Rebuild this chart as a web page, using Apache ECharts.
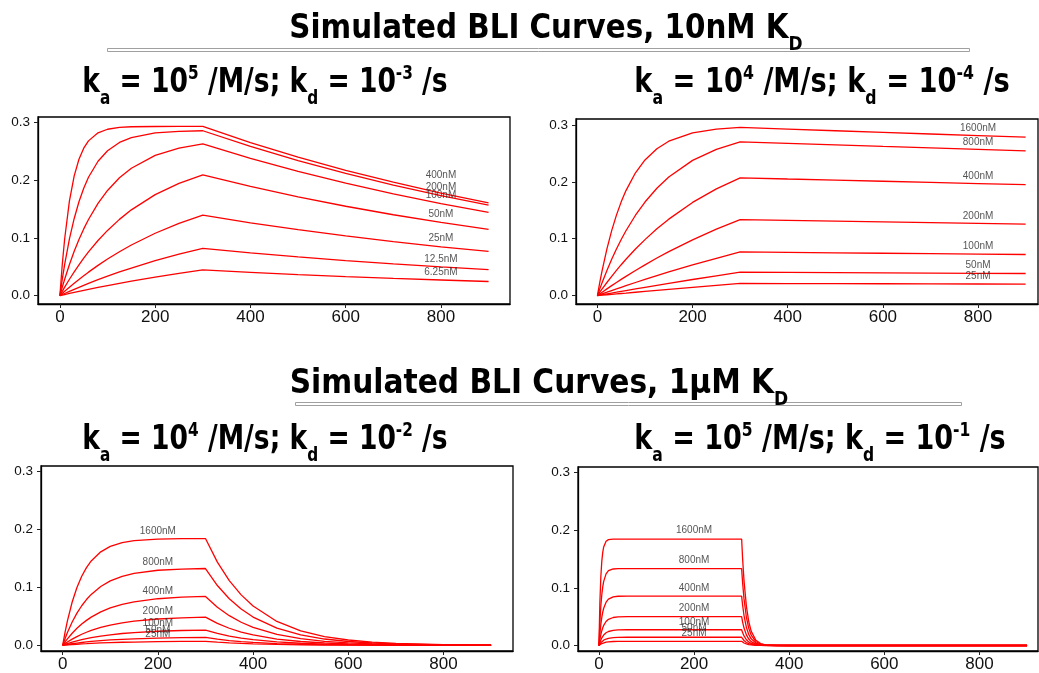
<!DOCTYPE html>
<html>
<head>
<meta charset="utf-8">
<script src="https://cdn.jsdelivr.net/npm/echarts@6/dist/echarts.min.js"></script>
<style>html,body{margin:0;padding:0;background:#fff;}#chart{width:1039px;height:673px;}</style>
</head>
<body>
<div id="chart"></div>
<script>
// ---------- titles ----------
const mainTitle1 = '{m|Simulated BLI Curves, 10nM K}{sub|D}';
const mainTitle2 = '{m|Simulated BLI Curves, 1μM K}{sub|D}';
const subTitle1 = '{m|k}{sub|a}{m| = 10}{sup|5}{m| /M/s; k}{sub|d}{m| = 10}{sup|-3}{m| /s}';
const subTitle2 = '{m|k}{sub|a}{m| = 10}{sup|4}{m| /M/s; k}{sub|d}{m| = 10}{sup|-4}{m| /s}';
const subTitle3 = '{m|k}{sub|a}{m| = 10}{sup|4}{m| /M/s; k}{sub|d}{m| = 10}{sup|-2}{m| /s}';
const subTitle4 = '{m|k}{sub|a}{m| = 10}{sup|5}{m| /M/s; k}{sub|d}{m| = 10}{sup|-1}{m| /s}';

// ---------- tick labels ----------
const xTicks = [0, 200, 400, 600, 800];
const yTicks = [0, 0.1, 0.2, 0.3];

// ---------- panel 1: ka 1e5, kd 1e-3 ----------
const time1 = [0,5,10,20,30,40,50,60,80,100,125,150,200,250,300,400,500,600,700,800,900];
const names1 = ['400nM','200nM','100nM','50nM','25nM','12.5nM','6.25nM'];
const p1_400 = [0,0.0543,0.0984,0.1638,0.2071,0.2359,0.2550,0.2677,0.2817,0.2878,0.2910,0.2921,0.2926,0.2927,0.2927,0.2648,0.2396,0.2168,0.1962,0.1775,0.1606];
const p1_200 = [0,0.0285,0.0541,0.0980,0.1335,0.1624,0.1857,0.2047,0.2324,0.2507,0.2650,0.2734,0.2814,0.2842,0.2852,0.2580,0.2335,0.2113,0.1912,0.1730,0.1565];
const p1_100 = [0,0.0146,0.0284,0.0539,0.0767,0.0971,0.1154,0.1317,0.1596,0.1819,0.2038,0.2203,0.2425,0.2553,0.2626,0.2376,0.2150,0.1945,0.1760,0.1593,0.1441];
const p1_50 = [0,0.0074,0.0146,0.0283,0.0412,0.0533,0.0648,0.0756,0.0953,0.1128,0.1319,0.1484,0.1747,0.1942,0.2087,0.1888,0.1709,0.1546,0.1399,0.1266,0.1145];
const p1_25 = [0,0.0037,0.0074,0.0145,0.0214,0.0280,0.0344,0.0406,0.0523,0.0633,0.0759,0.0875,0.1079,0.1250,0.1393,0.1260,0.1140,0.1032,0.0934,0.0845,0.0764];
const p1_12 = [0,0.0019,0.0037,0.0073,0.0109,0.0143,0.0177,0.0211,0.0275,0.0336,0.0409,0.0477,0.0604,0.0717,0.0818,0.0740,0.0670,0.0606,0.0548,0.0496,0.0449];
const p1_6 = [0,0.0009,0.0019,0.0037,0.0055,0.0073,0.0090,0.0107,0.0141,0.0173,0.0212,0.0250,0.0320,0.0385,0.0445,0.0403,0.0364,0.0330,0.0298,0.0270,0.0244];
const labelX1 = 800;
const labelY1 = [0.2075,0.188,0.173,0.1404,0.0988,0.0636,0.041];

// ---------- panel 2: ka 1e4, kd 1e-4 ----------
const time2 = [0,5,10,20,30,40,50,60,80,100,125,150,200,250,300,400,500,600,700,800,900];
const names2 = ['1600nM','800nM','400nM','200nM','100nM','50nM','25nM'];
const p2_1600 = [0,0.0231,0.0443,0.0821,0.1142,0.1415,0.1648,0.1846,0.2159,0.2385,0.2583,0.2715,0.2862,0.2928,0.2957,0.2928,0.2898,0.2869,0.2841,0.2813,0.2785];
const p2_800 = [0,0.0118,0.0231,0.0443,0.0639,0.0820,0.0987,0.1140,0.1413,0.1645,0.1887,0.2084,0.2377,0.2572,0.2702,0.2675,0.2649,0.2622,0.2596,0.2570,0.2545];
const p2_400 = [0,0.0059,0.0118,0.0230,0.0339,0.0443,0.0543,0.0638,0.0818,0.0984,0.1174,0.1344,0.1638,0.1877,0.2071,0.2050,0.2030,0.2010,0.1990,0.1970,0.1950];
const p2_200 = [0,0.0030,0.0059,0.0118,0.0175,0.0230,0.0285,0.0338,0.0442,0.0541,0.0660,0.0772,0.0980,0.1167,0.1335,0.1322,0.1309,0.1296,0.1283,0.1270,0.1257];
const p2_100 = [0,0.0015,0.0030,0.0059,0.0089,0.0117,0.0146,0.0174,0.0230,0.0284,0.0350,0.0415,0.0539,0.0656,0.0767,0.0759,0.0752,0.0744,0.0737,0.0730,0.0722];
const p2_50 = [0,0.0007,0.0015,0.0030,0.0045,0.0059,0.0074,0.0088,0.0117,0.0146,0.0181,0.0215,0.0283,0.0348,0.0412,0.0408,0.0404,0.0400,0.0396,0.0392,0.0388];
const p2_25 = [0,0.0004,0.0007,0.0015,0.0022,0.0030,0.0037,0.0044,0.0059,0.0074,0.0092,0.0110,0.0145,0.0180,0.0214,0.0212,0.0210,0.0208,0.0206,0.0204,0.0202];
const labelX2 = 800;
const labelY2 = [0.294,0.269,0.209,0.140,0.086,0.0534,0.0334];

// ---------- panel 3: ka 1e4, kd 1e-2 ----------
const time3 = [0,5,10,20,30,40,50,60,80,100,125,150,200,250,300,325,350,375,400,450,500,550,600,650,700,800,900];
const names3 = ['1600nM','800nM','400nM','200nM','100nM','50nM','25nM'];
const p3_1600 = [0,0.0225,0.0423,0.0749,0.1000,0.1193,0.1343,0.1458,0.1615,0.1709,0.1774,0.1809,0.1836,0.1843,0.1845,0.1437,0.1119,0.0872,0.0679,0.0412,0.0250,0.0151,0.0092,0.0056,0.0034,0.0012,0.0005];
const p3_800 = [0,0.0115,0.0220,0.0403,0.0556,0.0684,0.0791,0.0880,0.1017,0.1113,0.1193,0.1244,0.1297,0.1318,0.1327,0.1033,0.0805,0.0627,0.0488,0.0296,0.0180,0.0109,0.0066,0.0040,0.0024,0.0009,0.0003];
const p3_400 = [0,0.0058,0.0112,0.0209,0.0294,0.0367,0.0431,0.0487,0.0577,0.0646,0.0708,0.0752,0.0805,0.0831,0.0844,0.0657,0.0512,0.0399,0.0311,0.0188,0.0114,0.0069,0.0042,0.0025,0.0015,0.0006,0.0002];
const p3_200 = [0,0.0029,0.0057,0.0107,0.0151,0.0191,0.0226,0.0257,0.0309,0.0349,0.0388,0.0417,0.0455,0.0475,0.0486,0.0379,0.0295,0.0230,0.0179,0.0108,0.0066,0.0040,0.0024,0.0015,0.0009,0.0003,0.0001];
const p3_100 = [0,0.0015,0.0028,0.0054,0.0077,0.0097,0.0116,0.0132,0.0160,0.0182,0.0204,0.0221,0.0243,0.0256,0.0263,0.0205,0.0160,0.0124,0.0097,0.0059,0.0036,0.0022,0.0013,0.0008,0.0005,0.0002,0.0001];
const p3_50 = [0,0.0007,0.0014,0.0027,0.0039,0.0049,0.0058,0.0067,0.0081,0.0093,0.0104,0.0113,0.0125,0.0133,0.0137,0.0107,0.0083,0.0065,0.0050,0.0031,0.0019,0.0011,0.0007,0.0004,0.0003,0.0001,0.0000];
const p3_25 = [0,0.0004,0.0007,0.0014,0.0019,0.0025,0.0029,0.0034,0.0041,0.0047,0.0053,0.0057,0.0064,0.0068,0.0070,0.0055,0.0042,0.0033,0.0026,0.0016,0.0009,0.0006,0.0003,0.0002,0.0001,0.0000,0.0000];
const labelX3 = 200;
const labelY3 = [0.1967,0.1434,0.0935,0.0585,0.0373,0.0258,0.019];

// ---------- panel 4: ka 1e5, kd 1e-1 ----------
const time4 = [0,2,4,6,8,10,15,20,30,40,60,300,302,305,310,315,320,330,340,350,375,400,900];
const names4 = ['1600nM','800nM','400nM','200nM','100nM','50nM','25nM'];
const p4_1600 = [0,0.0749,0.1193,0.1458,0.1615,0.1709,0.1809,0.1836,0.1845,0.1846,0.1846,0.1846,0.1511,0.1120,0.0679,0.0412,0.0250,0.0092,0.0034,0.0012,0.0001,0,0];
const p4_800 = [0,0.0403,0.0684,0.0880,0.1017,0.1113,0.1243,0.1297,0.1327,0.1332,0.1333,0.1333,0.1091,0.0808,0.0490,0.0297,0.0180,0.0066,0.0024,0.0009,0.0001,0,0];
const p4_400 = [0,0.0209,0.0367,0.0487,0.0577,0.0646,0.0752,0.0805,0.0844,0.0854,0.0857,0.0857,0.0702,0.0520,0.0315,0.0191,0.0116,0.0043,0.0016,0.0006,0,0,0];
const p4_200 = [0,0.0107,0.0191,0.0257,0.0309,0.0349,0.0417,0.0455,0.0486,0.0496,0.0500,0.0500,0.0409,0.0303,0.0184,0.0112,0.0068,0.0025,0.0009,0.0003,0,0,0];
const p4_100 = [0,0.0054,0.0097,0.0132,0.0160,0.0182,0.0221,0.0243,0.0263,0.0270,0.0273,0.0273,0.0224,0.0166,0.0100,0.0061,0.0037,0.0014,0.0005,0.0002,0,0,0];
const p4_50 = [0,0.0027,0.0049,0.0067,0.0081,0.0093,0.0113,0.0125,0.0137,0.0141,0.0143,0.0143,0.0117,0.0087,0.0053,0.0032,0.0019,0.0007,0.0003,0.0001,0,0,0];
const p4_25 = [0,0.0014,0.0025,0.0034,0.0041,0.0047,0.0057,0.0064,0.0070,0.0072,0.0073,0.0073,0.0060,0.0044,0.0027,0.0016,0.0010,0.0004,0.0001,0,0,0,0];
const labelX4 = 200;
const labelY4 = [0.199,0.1476,0.0998,0.064,0.041,0.0294,0.022];

// ---------- layout / style ----------
const FONT = "'Liberation Sans', Arial, Helvetica, sans-serif";
const TFONT = "'Liberation Sans Narrow', 'Arial Narrow', 'DejaVu Sans Condensed', sans-serif";
const panels = [
  {grid:{left:38, top:117, width:472, height:187}, x:[-46,945], y:[-0.0145,0.309], time:time1, names:names1,
   vals:[p1_400,p1_200,p1_100,p1_50,p1_25,p1_12,p1_6], lx:labelX1, ly:labelY1},
  {grid:{left:576, top:119, width:462, height:185}, x:[-45,926], y:[-0.0148,0.3105], time:time2, names:names2,
   vals:[p2_1600,p2_800,p2_400,p2_200,p2_100,p2_50,p2_25], lx:labelX2, ly:labelY2},
  {grid:{left:41, top:466, width:472, height:185}, x:[-45.5,946], y:[-0.0098,0.3098], time:time3, names:names3,
   vals:[p3_1600,p3_800,p3_400,p3_200,p3_100,p3_50,p3_25], lx:labelX3, ly:labelY3},
  {grid:{left:578, top:467, width:460, height:186}, x:[-44,923], y:[-0.0095,0.3095], time:time4, names:names4,
   vals:[p4_1600,p4_800,p4_400,p4_200,p4_100,p4_50,p4_25], lx:labelX4, ly:labelY4}
];

const grids = [], xAxes = [], yAxes = [], series = [];
panels.forEach((p, i) => {
  grids.push(Object.assign({show:true, borderColor:'#000', borderWidth:1.3, backgroundColor:'#fff'}, p.grid));
  xAxes.push({type:'value', gridIndex:i, min:p.x[0], max:p.x[1],
    axisLine:{show:true, onZero:false, lineStyle:{color:'#000', width:1.3}},
    axisTick:{show:true, length:4, customValues:xTicks, lineStyle:{color:'#222', width:1}},
    axisLabel:{show:true, customValues:xTicks, fontSize:17, color:'#111', fontFamily:FONT, margin:5},
    splitLine:{show:false}});
  yAxes.push({type:'value', gridIndex:i, min:p.y[0], max:p.y[1],
    axisLine:{show:true, onZero:false, lineStyle:{color:'#000', width:1.3}},
    axisTick:{show:true, length:4, customValues:yTicks, lineStyle:{color:'#222', width:1}},
    axisLabel:{show:true, customValues:yTicks, fontSize:13.5, color:'#111', fontFamily:FONT, margin:8,
      formatter:(v)=>v.toFixed(1)},
    splitLine:{show:false}});
  p.vals.forEach((vals, k) => {
    series.push({type:'line', xAxisIndex:i, yAxisIndex:i, name:p.names[k],
      data: p.time.map((t, j) => [t, vals[j]]),
      showSymbol:false, symbol:'none', smooth:false,
      lineStyle:{color:'#ff0000', width:1.3}, silent:true, animation:false, z:2});
  });
  series.push({type:'scatter', xAxisIndex:i, yAxisIndex:i, symbolSize:0, silent:true, animation:false, z:3,
    data: p.names.map((n, k) => ({value:[p.lx, p.ly[k]], name:n})),
    label:{show:true, position:'inside', formatter:(d)=>d.name, fontSize:10, color:'#2a2a2a', fontFamily:FONT}});
});

const rich = {
  m:{fontSize:33, fontWeight:'bold', fontFamily:TFONT, lineHeight:51, verticalAlign:'middle', fill:'#000'},
  sup:{fontSize:19, fontWeight:'bold', fontFamily:TFONT, verticalAlign:'top', padding:[6.5,0,0,0], fill:'#000'},
  sub:{fontSize:19, fontWeight:'bold', fontFamily:TFONT, verticalAlign:'bottom', fill:'#000'}
};
function txt(text, cx, top, sx) {
  return {type:'text', x:cx, y:top, scaleX:sx, silent:true, z:10,
    style:{text:text, rich:rich, align:'center', verticalAlign:'top', fontFamily:TFONT, fontWeight:'bold', fontSize:33, fill:'#000'}};
}
const graphics = [
  txt(mainTitle1, 546, 4, 0.99),
  {type:'rect', silent:true, shape:{x:107.5, y:48.5, width:862, height:3}, style:{fill:'#fff', stroke:'#a0a0a0', lineWidth:1}},
  txt(subTitle1, 265, 58, 0.895),
  txt(subTitle2, 822, 58, 0.92),
  txt(mainTitle2, 539, 359, 1),
  {type:'rect', silent:true, shape:{x:295.5, y:402.5, width:666, height:3}, style:{fill:'#fff', stroke:'#a0a0a0', lineWidth:1}},
  txt(subTitle3, 265, 415, 0.895),
  txt(subTitle4, 820, 415, 0.91)
];

const chart = echarts.init(document.getElementById('chart'), null, {renderer:'canvas'});
chart.setOption({
  animation:false,
  backgroundColor:'#fff',
  grid:grids, xAxis:xAxes, yAxis:yAxes, series:series,
  graphic:{elements:graphics}
});
</script>
</body>
</html>
